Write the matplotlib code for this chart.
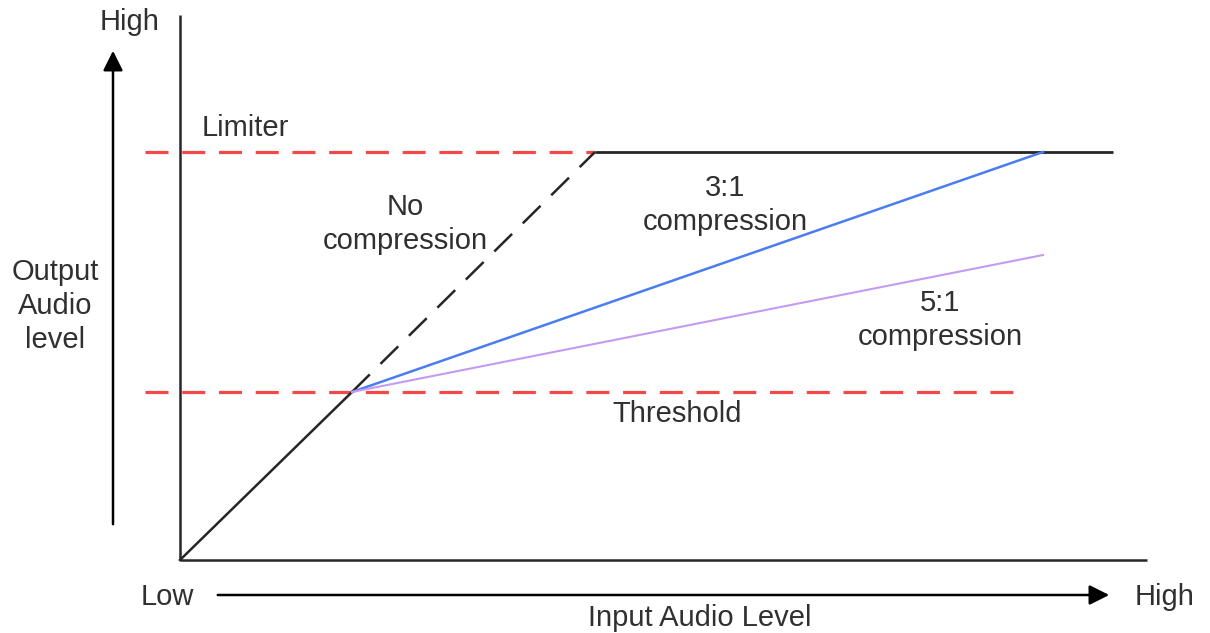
import matplotlib
matplotlib.use("Agg")
import matplotlib.pyplot as plt

plt.rcParams['font.family'] = ['Liberation Sans', 'DejaVu Sans']

# Data (units: input/output level, origin at Low/Low)
threshold = 168
limiter = 408
knee_in = 172
nocomp_x = [knee_in, 415]
nocomp_y = [threshold, limiter]
linear_x = [0, knee_in]
linear_y = [0, threshold]
limit_x = [415, 933]
limit_y = [limiter, limiter]
ratio31_x = [knee_in, 863]
ratio31_y = [threshold, limiter]
ratio51_x = [knee_in, 863]
ratio51_y = [threshold, 305]
thr_line_x = [-35, 833]
lim_line_x = [-35, 415]
x_axis_end = 967
y_axis_end = 545

fig = plt.figure(figsize=(12.1, 6.33), dpi=100)
ax = fig.add_axes([0, 0, 1, 1])
ax.set_xlim(-180, 1030)
ax.set_ylim(-73, 560)
ax.axis('off')

black = '#262626'
red = '#f44848'

# axes lines
ax.plot([0, 0], [0, y_axis_end], color=black, lw=1.8, solid_capstyle='butt')
ax.plot([0, x_axis_end], [0, 0], color=black, lw=1.8, solid_capstyle='butt')

# red dashed reference lines
ax.plot(thr_line_x, [threshold, threshold], color=red, lw=2.3, dashes=(7.2, 4.3))
ax.plot(lim_line_x, [limiter, limiter], color=red, lw=2.3, dashes=(7.2, 4.3))

# curves
ax.plot(linear_x, linear_y, color=black, lw=1.8)
ax.plot(nocomp_x, nocomp_y, color=black, lw=1.8, dashes=(10, 6))
ax.plot(limit_x, limit_y, color=black, lw=2.0, solid_capstyle='butt')
ax.plot(ratio31_x, ratio31_y, color='#4a7df0', lw=1.8)
ax.plot(ratio51_x, ratio51_y, color='#c39cf2', lw=1.5)

# arrows
ax.annotate('', xy=(-67, 512), xytext=(-67, 33),
            arrowprops=dict(arrowstyle='-|>', color='black', lw=1.8, mutation_scale=30))
ax.annotate('', xy=(932, -35), xytext=(35, -35),
            arrowprops=dict(arrowstyle='-|>', color='black', lw=1.8, mutation_scale=30))

fs = 21
tc = '#303030'
ls = 1.28
ax.text(-50, 538, 'High', fontsize=fs, color=tc, ha='center', va='center')
ax.text(65, 432, 'Limiter', fontsize=fs, color=tc, ha='center', va='center')
ax.text(225, 336, 'No\ncompression', fontsize=fs, color=tc, ha='center', va='center', linespacing=ls)
ax.text(545, 355, '3:1\ncompression', fontsize=fs, color=tc, ha='center', va='center', linespacing=ls)
ax.text(760, 240, '5:1\ncompression', fontsize=fs, color=tc, ha='center', va='center', linespacing=ls)
ax.text(-125, 254, 'Output\nAudio\nlevel', fontsize=fs, color=tc, ha='center', va='center', linespacing=ls)
ax.text(497, 146, 'Threshold', fontsize=fs, color=tc, ha='center', va='center')
ax.text(-13, -37, 'Low', fontsize=fs, color=tc, ha='center', va='center')
ax.text(985, -37, 'High', fontsize=fs, color=tc, ha='center', va='center')
ax.text(520, -58, 'Input Audio Level', fontsize=fs, color=tc, ha='center', va='center')

fig.savefig('out.png', dpi=100)
